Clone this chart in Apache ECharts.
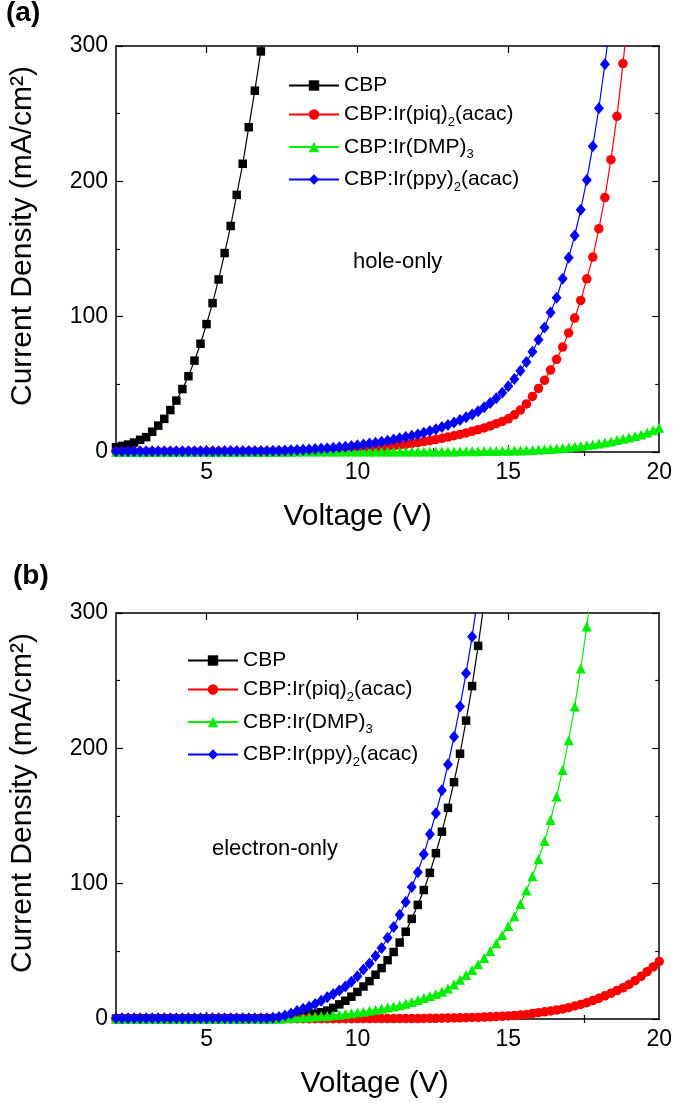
<!DOCTYPE html>
<html><head><meta charset="utf-8">
<script src="https://cdn.jsdelivr.net/npm/echarts@6/dist/echarts.min.js"></script>
<style>html,body{margin:0;padding:0;background:#fff}#c{width:675px;height:1103px}</style>
</head><body><div id="c"></div>
<script>
// ---------- data ----------
const voltage = [2.0,2.2,2.4,2.6,2.8,3.0,3.2,3.4,3.6,3.8,4.0,4.2,4.4,4.6,4.8,5.0,5.2,5.4,5.6,5.8,6.0,6.2,6.4,6.6,6.8,7.0,7.2,7.4,7.6,7.8,8.0,8.2,8.4,8.6,8.8,9.0,9.2,9.4,9.6,9.8,10.0,10.2,10.4,10.6,10.8,11.0,11.2,11.4,11.6,11.8,12.0,12.2,12.4,12.6,12.8,13.0,13.2,13.4,13.6,13.8,14.0,14.2,14.4,14.6,14.8,15.0,15.2,15.4,15.6,15.8,16.0,16.2,16.4,16.6,16.8,17.0,17.2,17.4,17.6,17.8,18.0,18.2,18.4,18.6,18.8,19.0,19.2,19.4,19.6,19.8,20.0];

const seriesNames = ['CBP', 'CBP:Ir(piq)2(acac)', 'CBP:Ir(DMP)3', 'CBP:Ir(ppy)2(acac)'];
const legendLabels = ['{m|CBP}', '{m|CBP:Ir(piq)}{s|2}{m|(acac)}', '{m|CBP:Ir(DMP)}{s|3}', '{m|CBP:Ir(ppy)}{s|2}{m|(acac)}'];

// (a) hole-only, current density in mA/cm2
const holeCBP = [3.5,4.5,5.5,7,9,11,15,19.5,24.5,31,38,46.5,56,67.5,80,94.5,110,127.5,147,167,190,213,240,267,296,327];
const holePiq = [0.2,0.2,0.2,0.2,0.2,0.2,0.2,0.2,0.2,0.2,0.2,0.2,0.3,0.3,0.3,0.3,0.3,0.3,0.3,0.3,0.3,0.3,0.4,0.4,0.4,0.4,0.4,0.5,0.5,0.5,0.6,0.6,0.7,0.7,0.8,
  0.9,1.0,1.2,1.4,1.6,1.8,2.1,2.5,2.9,3.4,4.0,4.5,5.0,5.6,6.3,7.0,7.7,8.4,9.2,10.1,11.0,12.0,13.0,14.1,15.3,16.5,17.8,19.3,20.9,22.6,
  24.5,27.5,31,35.5,41,47,53,60.5,68.5,77.5,88,99,112,128,144,165,188,216,248,287,330];
const holeDMP = [0.2,0.2,0.2,0.2,0.2,0.2,0.2,0.2,0.2,0.2,0.2,0.2,0.2,0.2,0.2,0.2,0.2,0.2,0.2,0.2,0.2,0.2,0.2,0.2,0.2,0.2,0.2,0.2,0.2,0.2,
  0.3,0.3,0.3,0.3,0.3,0.3,0.3,0.3,0.3,0.3,0.3,0.3,0.3,0.3,0.3,0.3,0.3,0.3,0.3,0.3,0.3,0.3,0.3,0.3,0.3,
  0.4,0.4,0.5,0.5,0.6,0.6,0.7,0.7,0.8,0.9,1.0,1.1,1.2,1.3,1.5,1.8,2.0,2.3,2.6,3.0,3.4,4.0,4.5,5.0,5.6,6.3,7.0,7.8,8.8,9.8,10.8,11.8,13.0,14.4,16.0,18.0];
const holePpy = [0.5,0.5,0.5,0.5,0.5,0.5,0.5,0.5,0.5,0.5,0.6,0.6,0.6,0.6,0.6,0.6,0.6,0.6,0.7,0.7,0.7,0.7,0.7,0.7,0.7,
  0.8,0.9,1.0,1.1,1.3,1.5,1.7,1.9,2.2,2.5,2.8,3.1,3.5,3.9,4.4,5.0,5.6,6.2,6.9,7.6,8.4,9.2,10.1,11.0,12.0,13.0,14.2,15.5,16.9,18.4,20.0,21.8,23.6,25.6,27.8,30.2,33,36.2,39.8,43.8,
  48.5,54,60,66.5,74,83,92,103,114,128,143.5,160,179,201,226,254,286.5,322];

// (b) electron-only
const elecCBP = [0.3,0.3,0.3,0.3,0.3,0.3,0.3,0.3,0.3,0.3,0.3,0.3,0.3,0.3,0.3,0.3,0.3,0.3,0.3,0.3,0.3,0.3,0.3,0.3,0.3,0.3,
  0.5,0.7,1.0,1.4,2.0,2.6,3.3,4.0,5.0,6.2,8.2,10.8,13.5,16.5,20,24,28,32.7,37.6,43.5,49.5,56.5,64.5,74,84.3,95.3,108,122.5,138.4,156,175,196,220.5,246,275.7,308];
const elecPiq = [0.1,0.1,0.1,0.1,0.1,0.1,0.1,0.1,0.1,0.1,0.1,0.1,0.1,0.1,0.1,0.1,0.1,0.1,0.1,0.1,
  0.2,0.2,0.2,0.2,0.2,0.2,0.2,0.2,0.2,0.2,0.2,0.2,0.2,0.2,0.2,0.2,0.2,0.2,0.2,0.2,
  0.3,0.3,0.3,0.3,0.3,0.3,0.3,0.3,0.3,0.3,
  0.3,0.4,0.5,0.5,0.6,0.7,0.8,0.9,1.0,1.1,1.2,1.4,1.6,1.8,2.0,2.3,2.6,3.0,3.4,4.0,4.7,5.3,5.9,6.6,7.4,8.4,9.6,10.8,12,13.6,15.3,17.1,19,21,23,25.5,28.3,31.5,35,38.5,42.5];
const elecDMP = [0.2,0.2,0.2,0.2,0.2,0.2,0.2,0.2,0.2,0.2,0.2,0.2,0.2,0.2,0.2,0.2,0.2,0.2,0.2,0.2,0.2,0.2,0.2,0.2,0.2,0.2,0.2,0.2,
  0.5,0.7,1.0,1.2,1.5,1.8,2.0,2.3,2.8,3.2,3.7,4.2,4.8,5.4,6.1,6.8,7.6,8.5,9.3,10.2,11.2,12.5,14,15.5,17,18.5,20.2,22.5,25.5,29,
  32.5,36.2,40.4,45,50.3,56,62,68.7,76,85,95,105.5,118,131.5,147,164.5,184,206,231,259,290,325];
const elecPpy = [0.5,0.5,0.5,0.5,0.5,0.5,0.5,0.5,0.5,0.5,0.5,0.5,0.5,0.5,0.5,0.5,0.5,0.5,0.5,0.5,0.5,0.5,0.5,0.5,0.5,0.5,
  1,1.5,2.5,4,6,7.5,9,11,13.5,16,18.5,21,24,27.5,31.5,36.5,41,46.5,52.5,60,68,77,86.5,97.5,108.5,121.7,136.5,152,169,188,208.5,231,255.5,282.5,313];

const xLabelValues = [5, 10, 15, 20];
const xMajorTicks = [5, 10, 15];
const xMinorTicks = [2.5, 7.5, 12.5, 17.5];

const colors = ['#000000', '#ff0000', '#00ee00', '#0000ff'];
const symbols = ['rect', 'circle', 'triangle', 'diamond'];
const symbolSizes = [8.5, 9.5, 10, [10, 12]];

// ---------- chart ----------
const FONT = 'Liberation Sans, Arial, Helvetica, sans-serif';
const chart = echarts.init(document.getElementById('c'), null, {renderer: 'canvas'});

const grids = [
  {left: 116, top: 46, width: 547, height: 406},
  {left: 116, top: 613, width: 547, height: 406}
];

function xAxes(g) {
  const base = {gridIndex: g, type: 'value', min: 2, max: 20, splitLine: {show: false}};
  return [
    Object.assign({}, base, {
      position: 'bottom',
      axisLine: {show: true, onZero: false, lineStyle: {color: '#000', width: 1.5}},
      axisTick: {show: true, inside: true, length: 7, customValues: xMajorTicks, lineStyle: {color: '#000', width: 1.2}},
      axisLabel: {show: true, customValues: xLabelValues, fontSize: 23, color: '#000', fontFamily: FONT, margin: 9},
      name: 'Voltage (V)', nameLocation: 'middle', nameGap: 50,
      nameTextStyle: {fontSize: 30, color: '#000', fontFamily: FONT, padding: g === 0 ? [0, 60, 0, 0] : [0, 26, 0, 0]}
    }),
    Object.assign({}, base, {
      position: 'bottom', axisLine: {show: false},
      axisTick: {show: true, inside: true, length: 4, customValues: xMinorTicks, lineStyle: {color: '#000', width: 1.2}},
      axisLabel: {show: false}
    }),
    Object.assign({}, base, {
      position: 'top',
      axisLine: {show: true, onZero: false, lineStyle: {color: '#000', width: 1.5}},
      axisTick: {show: true, inside: true, length: 7, customValues: xMajorTicks, lineStyle: {color: '#000', width: 1.2}},
      axisLabel: {show: false}
    }),
    Object.assign({}, base, {
      position: 'top', axisLine: {show: false},
      axisTick: {show: true, inside: true, length: 4, customValues: xMinorTicks, lineStyle: {color: '#000', width: 1.2}},
      axisLabel: {show: false}
    })
  ];
}

function yAxes(g) {
  const base = {gridIndex: g, type: 'value', min: 0, max: 300, interval: 100, splitLine: {show: false},
    minorTick: {show: true, splitNumber: 2, length: 4, lineStyle: {color: '#000', width: 1.2}}};
  return [
    Object.assign({}, base, {
      position: 'left',
      axisLine: {show: true, onZero: false, lineStyle: {color: '#000', width: 1.5}},
      axisTick: {show: true, inside: true, length: 7, lineStyle: {color: '#000', width: 1.2}},
      axisLabel: {show: true, fontSize: 23, color: '#000', fontFamily: FONT, margin: 8},
      name: 'Current Density (mA/cm²)', nameLocation: 'middle', nameGap: 78,
      nameTextStyle: {fontSize: 30, color: '#000', fontFamily: FONT, padding: [0, 0, 0, 26]}
    }),
    Object.assign({}, base, {
      position: 'right',
      axisLine: {show: true, onZero: false, lineStyle: {color: '#000', width: 1.5}},
      axisTick: {show: true, inside: true, length: 7, lineStyle: {color: '#000', width: 1.2}},
      axisLabel: {show: false}
    })
  ];
}

function makeSeries(g, arrays) {
  return arrays.map((vals, k) => ({
    name: seriesNames[k],
    type: 'line',
    xAxisIndex: g * 4,
    yAxisIndex: g * 2,
    data: vals.map((v, i) => [voltage[i], v]),
    symbol: symbols[k],
    symbolSize: symbolSizes[k],
    showSymbol: true,
    showAllSymbol: true,
    clip: true,
    lineStyle: {color: colors[k], width: 1.2},
    itemStyle: {color: colors[k]},
    emphasis: {disabled: true},
    z: 2 + k
  }));
}

const legendText = {
  fontSize: 21, color: '#000', fontFamily: FONT,
  rich: {
    m: {fontSize: 21, color: '#000', fontFamily: FONT},
    s: {fontSize: 13, color: '#000', fontFamily: FONT, verticalAlign: 'top', padding: [15, 0, 0, 0]}
  }
};
function makeLegend(left, top) {
  return {
    left: left, top: top, orient: 'vertical', itemWidth: 50, itemHeight: 13, itemGap: 8,
    data: seriesNames, selectedMode: false,
    formatter: name => legendLabels[seriesNames.indexOf(name)],
    textStyle: legendText
  };
}

const option = {
  animation: false,
  backgroundColor: '#fff',
  textStyle: {fontFamily: FONT},
  grid: grids,
  xAxis: xAxes(0).concat(xAxes(1)),
  yAxis: yAxes(0).concat(yAxes(1)),
  legend: [makeLegend(283, 70), makeLegend(182, 645)],
  series: makeSeries(0, [holeCBP, holePiq, holeDMP, holePpy]).concat(makeSeries(1, [elecCBP, elecPiq, elecDMP, elecPpy])),
  graphic: [
    {type: 'text', left: 6, top: -1, style: {text: '(a)', font: 'bold 28px ' + FONT, fill: '#000'}},
    {type: 'text', left: 13, top: 562, style: {text: '(b)', font: 'bold 28px ' + FONT, fill: '#000'}},
    {type: 'text', left: 353, top: 251, style: {text: 'hole-only', font: '22px ' + FONT, fill: '#000'}},
    {type: 'text', left: 212, top: 838, style: {text: 'electron-only', font: '22px ' + FONT, fill: '#000'}}
  ]
};
chart.setOption(option);
</script>
</body></html>
